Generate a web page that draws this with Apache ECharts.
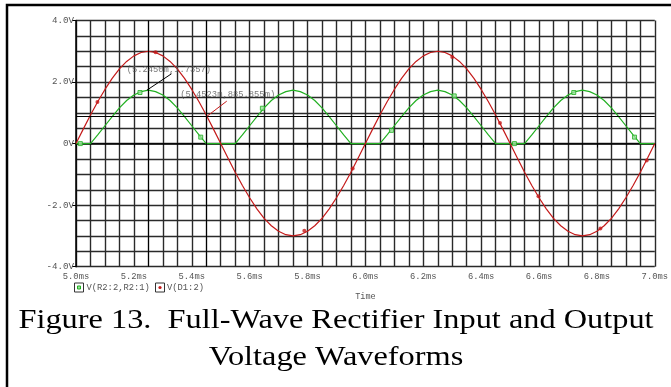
<!DOCTYPE html>
<html>
<head>
<meta charset="utf-8">
<script src="https://cdn.jsdelivr.net/npm/echarts@6/dist/echarts.min.js"></script>
<style>
  html, body { margin: 0; padding: 0; background: #fff; }
  #chart { width: 671px; height: 387px; }
</style>
</head>
<body>
<div id="chart"></div>
<script>
// time base (ms), one sample every 0.025 ms
var timeMs = [
  5.000, 5.025, 5.050, 5.075, 5.100, 5.125, 5.150, 5.175, 5.200, 5.225,
  5.250, 5.275, 5.300, 5.325, 5.350, 5.375, 5.400, 5.425, 5.450, 5.475,
  5.500, 5.525, 5.550, 5.575, 5.600, 5.625, 5.650, 5.675, 5.700, 5.725,
  5.750, 5.775, 5.800, 5.825, 5.850, 5.875, 5.900, 5.925, 5.950, 5.975,
  6.000, 6.025, 6.050, 6.075, 6.100, 6.125, 6.150, 6.175, 6.200, 6.225,
  6.250, 6.275, 6.300, 6.325, 6.350, 6.375, 6.400, 6.425, 6.450, 6.475,
  6.500, 6.525, 6.550, 6.575, 6.600, 6.625, 6.650, 6.675, 6.700, 6.725,
  6.750, 6.775, 6.800, 6.825, 6.850, 6.875, 6.900, 6.925, 6.950, 6.975,
  7.000
];

// V(D1:2) - input (V)
var vIn = [
  0, 0.47, 0.93, 1.36, 1.76, 2.12, 2.43, 2.67, 2.85, 2.96,
  3.00, 2.96, 2.85, 2.67, 2.43, 2.12, 1.76, 1.36, 0.93, 0.47,
  0, -0.47, -0.93, -1.36, -1.76, -2.12, -2.43, -2.67, -2.85, -2.96,
  -3.00, -2.96, -2.85, -2.67, -2.43, -2.12, -1.76, -1.36, -0.93, -0.47,
  0, 0.47, 0.93, 1.36, 1.76, 2.12, 2.43, 2.67, 2.85, 2.96,
  3.00, 2.96, 2.85, 2.67, 2.43, 2.12, 1.76, 1.36, 0.93, 0.47,
  0, -0.47, -0.93, -1.36, -1.76, -2.12, -2.43, -2.67, -2.85, -2.96,
  -3.00, -2.96, -2.85, -2.67, -2.43, -2.12, -1.76, -1.36, -0.93, -0.47,
  0
];

// V(R2:2,R2:1) - rectified output (V)
var vOut = [
  0, 0, 0, 0.28, 0.58, 0.88, 1.16, 1.40, 1.58, 1.69,
  1.74, 1.69, 1.58, 1.40, 1.16, 0.88, 0.58, 0.28, 0, 0,
  0, 0, 0, 0.28, 0.58, 0.88, 1.16, 1.40, 1.58, 1.69,
  1.74, 1.69, 1.58, 1.40, 1.16, 0.88, 0.58, 0.28, 0, 0,
  0, 0, 0, 0.28, 0.58, 0.88, 1.16, 1.40, 1.58, 1.69,
  1.74, 1.69, 1.58, 1.40, 1.16, 0.88, 0.58, 0.28, 0, 0,
  0, 0, 0, 0.28, 0.58, 0.88, 1.16, 1.40, 1.58, 1.69,
  1.74, 1.69, 1.58, 1.40, 1.16, 0.88, 0.58, 0.28, 0, 0,
  0
];

// trace symbols as placed by the probe
var inMarkT  = [5.074, 5.275, 5.789, 5.956, 6.300, 6.465, 6.598, 6.812, 6.972];
var inMarkV  = [1.35, 2.97, -2.83, -0.81, 2.81, 0.67, -1.71, -2.76, -0.55];
var outMarkT = [5.015, 5.221, 5.431, 5.644, 6.090, 6.307, 6.515, 6.720, 6.930];
var outMarkV = [0, 1.66, 0.21, 1.15, 0.43, 1.55, 0, 1.66, 0.21];

// cursor readouts
var cursor1 = [5.2450, 1.7357];
var cursor2 = [5.4523, 0.885855];

var xTickLabels = ['5.0ms','5.2ms','5.4ms','5.6ms','5.8ms','6.0ms','6.2ms','6.4ms','6.6ms','6.8ms','7.0ms'];
var yTickLabels = ['-4.0V','-2.0V','0V','2.0V','4.0V'];
var captionLines = ['Figure 13.  Full-Wave Rectifier Input and Output', 'Voltage Waveforms'];

var RED = '#c41a1a', GREEN = '#22b022';
var MONO = '"Liberation Mono", "DejaVu Sans Mono", monospace';
var SERIF = '"Liberation Serif", "Times New Roman", serif';

function pairs(xs, ys) { return xs.map(function (x, i) { return [x, ys[i]]; }); }

var chart = echarts.init(document.getElementById('chart'));

var gridLine = { show: true, lineStyle: { color: '#2a2a2a', width: 1.4 } };

chart.setOption({
  animation: false,
  grid: { left: 76, right: 1, top: 20.5, bottom: 120.3, containLabel: false },
  xAxis: [
    { type: 'value', min: 5, max: 7, interval: 0.05,
      axisLine: { show: true, lineStyle: { color: '#000', width: 1.5 } },
      axisTick: { show: false }, axisLabel: { show: false }, splitLine: gridLine,
      name: 'Time', nameLocation: 'middle', nameGap: 26,
      nameTextStyle: { fontFamily: MONO, fontSize: 8.5, color: '#555' } },
    { type: 'value', min: 5, max: 7, interval: 0.2, position: 'bottom',
      axisLine: { show: false }, splitLine: { show: false },
      axisTick: { show: true, length: 4, lineStyle: { color: '#000' } },
      axisLabel: { margin: 5, fontFamily: MONO, fontSize: 8.8, color: '#555',
        formatter: function (v) { return xTickLabels[Math.round((v - 5) / 0.2)]; } } }
  ],
  yAxis: [
    { type: 'value', min: -4, max: 4, interval: 0.5,
      axisLine: { show: true, lineStyle: { color: '#000', width: 1.5 } },
      axisTick: { show: false }, axisLabel: { show: false }, splitLine: gridLine },
    { type: 'value', min: -4, max: 4, interval: 2, position: 'left',
      axisLine: { show: false }, splitLine: { show: false },
      axisTick: { show: true, length: 4, lineStyle: { color: '#000' } },
      axisLabel: { margin: 2, fontFamily: MONO, fontSize: 9.2, color: '#555',
        formatter: function (v) { return yTickLabels[Math.round((v + 4) / 2)]; } } }
  ],
  series: [
    { name: 'V(R2:2,R2:1)', type: 'line', data: pairs(timeMs, vOut), showSymbol: false,
      lineStyle: { color: GREEN, width: 1.2 }, z: 3 },
    { name: 'V(D1:2)', type: 'line', data: pairs(timeMs, vIn), showSymbol: false,
      lineStyle: { color: RED, width: 1.2 }, z: 4,
      markLine: { silent: true, symbol: 'none', label: { show: false },
        lineStyle: { color: '#000', width: 1, type: 'solid' },
        data: [ { yAxis: cursor2[1] }, { xAxis: cursor2[0] }, { xAxis: cursor1[0] } ] } },
    { type: 'scatter', data: pairs(outMarkT, outMarkV), symbol: 'rect', symbolSize: 4,
      itemStyle: { color: '#9be09b', borderColor: GREEN, borderWidth: 1 }, z: 5 },
    { type: 'scatter', data: pairs(inMarkT, inMarkV), symbol: 'circle', symbolSize: 4,
      itemStyle: { color: RED }, z: 5 },
    // cursor leader lines
    { type: 'line', data: [cursor1, [5.330, 2.27]], showSymbol: false,
      lineStyle: { color: '#000', width: 1 }, z: 6 },
    { type: 'line', data: [cursor2, [5.521, 1.38]], showSymbol: false,
      lineStyle: { color: RED, width: 1 }, z: 6 },
    // cursor labels
    { type: 'scatter', symbolSize: 0, z: 7,
      data: [ { value: [5.175, 2.40], name: '(5.2450m,1.7357)' },
              { value: [5.360, 1.59], name: '(5.4523m,885.855m)' } ],
      label: { show: true, position: 'right', distance: 0, formatter: '{b}',
               fontFamily: MONO, fontSize: 8.8, color: '#555' } }
  ],
  graphic: [
    { type: 'rect', shape: { x: 7, y: 5, width: 700, height: 420 },
      style: { fill: null, stroke: '#000', lineWidth: 2.5 }, silent: true },
    // legend
    { type: 'rect', shape: { x: 74.5, y: 283, width: 9, height: 9 },
      style: { fill: '#fff', stroke: '#333', lineWidth: 1 } },
    { type: 'rect', shape: { x: 77.5, y: 286, width: 3, height: 3 },
      style: { fill: '#9be09b', stroke: GREEN, lineWidth: 1 } },
    { type: 'text', x: 86.5, y: 287.5,
      style: { text: 'V(R2:2,R2:1)', font: '8.8px ' + MONO, fill: '#555', verticalAlign: 'middle' } },
    { type: 'rect', shape: { x: 155.5, y: 283, width: 9, height: 9 },
      style: { fill: '#fff', stroke: '#333', lineWidth: 1 } },
    { type: 'circle', shape: { cx: 160, cy: 287.5, r: 1.6 },
      style: { fill: RED } },
    { type: 'text', x: 167, y: 287.5,
      style: { text: 'V(D1:2)', font: '8.8px ' + MONO, fill: '#555', verticalAlign: 'middle' } },
    // caption (the source figure is slightly stretched horizontally)
    { type: 'text', x: 336, y: 320.5, scaleX: 1.155,
      style: { text: captionLines[0], font: '28px ' + SERIF, fill: '#000',
               align: 'center', verticalAlign: 'middle' } },
    { type: 'text', x: 336, y: 358, scaleX: 1.155,
      style: { text: captionLines[1], font: '28px ' + SERIF, fill: '#000',
               align: 'center', verticalAlign: 'middle' } }
  ]
});
</script>
</body>
</html>
